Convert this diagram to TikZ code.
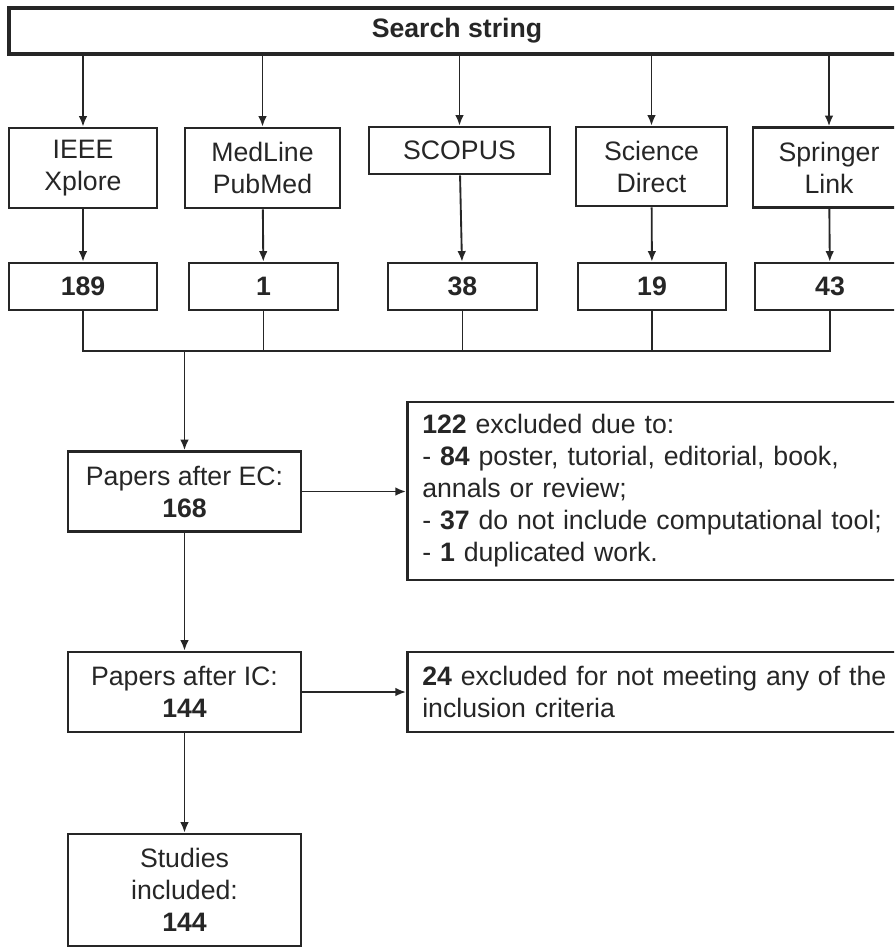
\documentclass[tikz,border=0pt]{standalone}
\usepackage{fontspec}
\setmainfont{Liberation Sans}
\usepackage{tikz}
\usetikzlibrary{arrows.meta,positioning,calc}
\definecolor{linegray}{HTML}{262626}
\newlength{\unitpx}
\setlength{\unitpx}{0.75pt}

\begin{document}
\begin{tikzpicture}[x=0.75pt,y=-0.75pt,
  box/.style={draw=linegray,line width=1.9pt,inner sep=0pt,align=center,text=linegray,font=\fontsize{20}{24}\selectfont},
  countbox/.style={box,font=\fontsize{20}{24}\selectfont\bfseries,minimum height=47*\unitpx},
  stagebox/.style={box,minimum width=233*\unitpx,minimum height=80*\unitpx},
  notebox/.style={box,anchor=west,align=left,minimum width=504*\unitpx,text width=474*\unitpx},
  arr/.style={draw=linegray,line width=1.4pt,-{Latex[length=8pt,width=6.5pt]}},
  link/.style={draw=linegray,line width=1.4pt}]
  \useasboundingbox (0,0) rectangle (894,947);
  \clip (0,0) rectangle (894,947);

  % Search string
  \node[box,font=\fontsize{20}{24}\selectfont\bfseries,line width=2.6pt,minimum width=896*\unitpx,minimum height=46*\unitpx] (search) at (457,31) {Search string};

  % Databases
  \node[box,minimum width=148*\unitpx,minimum height=80*\unitpx] (ieee) at (83,168) {IEEE\\Xplore};
  \node[box,minimum width=155*\unitpx,minimum height=80*\unitpx] (medline) at (262.5,168) {MedLine\\PubMed};
  \node[box,minimum width=181*\unitpx,minimum height=47*\unitpx] (scopus) at (459.5,150.5) {SCOPUS};
  \node[box,minimum width=151*\unitpx,minimum height=79*\unitpx] (science) at (651.5,166.5) {Science\\Direct};
  \node[box,minimum width=152*\unitpx,minimum height=80*\unitpx] (springer) at (829,167.5) {Springer\\Link};

  % Counts per database
  \node[countbox,minimum width=148*\unitpx] (n189) at (83,286.5) {189};
  \node[countbox,minimum width=149*\unitpx] (n1) at (263.5,286.5) {1};
  \node[countbox,minimum width=149*\unitpx] (n38) at (462.5,286.5) {38};
  \node[countbox,minimum width=148*\unitpx] (n19) at (652,286.5) {19};
  \node[countbox,minimum width=150*\unitpx] (n43) at (830,286.5) {43};

  % Main chain
  \node[stagebox] (ec) at (184.5,491.5) {Papers after EC:\\\textbf{168}};
  \node[stagebox] (ic) at (184.5,692) {Papers after IC:\\\textbf{144}};
  \node[stagebox,minimum height=112*\unitpx] (studies) at (184.5,890) {Studies\\included:\\\textbf{144}};

  % Exclusions
  \node[notebox,minimum height=178*\unitpx] (excl) at (406,491) {\textbf{122} excluded due to:\\- \textbf{84} poster, tutorial, editorial, book,\\annals or review;\\- \textbf{37} do not include computational tool;\\- \textbf{1} duplicated work.};
  \node[notebox,minimum height=80*\unitpx] (crit) at (406,692) {\textbf{24} excluded for not meeting any of the\\inclusion criteria};

  % Connectors
  \foreach \db in {ieee,medline,scopus,science,springer}
    \draw[arr] (search.south -| \db.north) -- (\db.north);
  \draw[arr] (ieee) -- (n189);
  \draw[arr] (medline) -- (n1);
  \draw[arr] (scopus) -- (n38);
  \draw[arr] (science) -- (n19);
  \draw[arr] (springer) -- (n43);

  \coordinate (bar) at (184.5,351);
  \draw[link] (n189.south) |- (bar) -| (n43.south);
  \foreach \n in {n1,n38,n19}
    \draw[link] (\n.south) -- (\n.south |- bar);
  \draw[arr] (bar) -- (ec);

  \draw[arr] (ec.east) -- (ec.east -| excl.west);
  \draw[arr] (ec) -- (ic);
  \draw[arr] (ic.east) -- (ic.east -| crit.west);
  \draw[arr] (ic) -- (studies);
\end{tikzpicture}
\end{document}
